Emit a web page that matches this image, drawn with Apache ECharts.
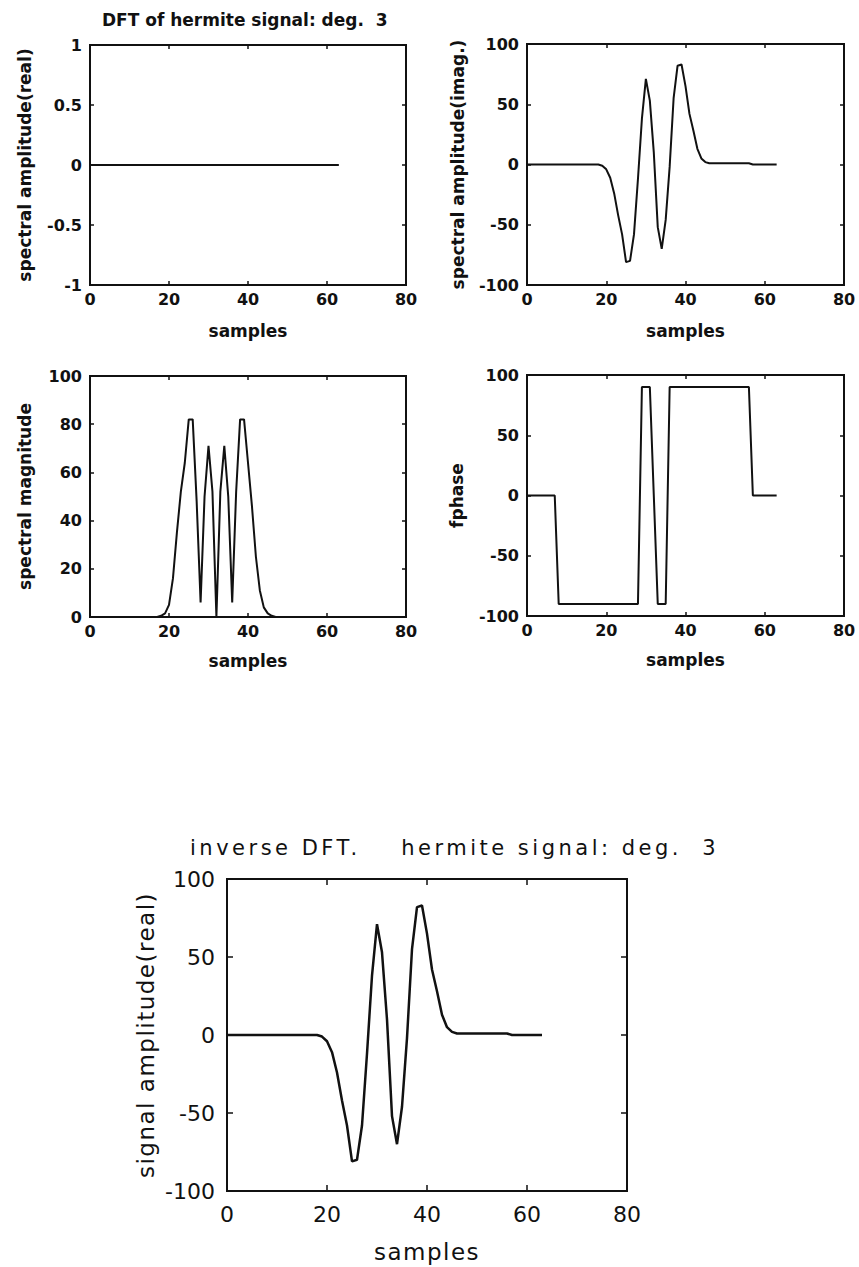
<!DOCTYPE html>
<html>
<head>
<meta charset="utf-8">
<script src="https://cdn.jsdelivr.net/npm/echarts@6/dist/echarts.min.js"></script>
<style>
html, body { margin: 0; padding: 0; background: #fff; }
#chart { width: 859px; height: 1267px; }
/* the scanned bottom panel has wide letter spacing */
#chart text[style*="21px"] { letter-spacing: 3.5px; }
#chart text[style*="23px"] { letter-spacing: 1.5px; }
</style>
</head>
<body>
<div id="chart"></div>
<script>
const samples = [0, 1, 2, 3, 4, 5, 6, 7, 8, 9, 10, 11, 12, 13, 14, 15, 16, 17, 18, 19,
  20, 21, 22, 23, 24, 25, 26, 27, 28, 29, 30, 31, 32, 33, 34, 35, 36, 37, 38, 39,
  40, 41, 42, 43, 44, 45, 46, 47, 48, 49, 50, 51, 52, 53, 54, 55, 56, 57, 58, 59,
  60, 61, 62, 63];

const realPart = [0, 0, 0, 0, 0, 0, 0, 0, 0, 0, 0, 0, 0, 0, 0, 0, 0, 0, 0, 0,
  0, 0, 0, 0, 0, 0, 0, 0, 0, 0, 0, 0, 0, 0, 0, 0, 0, 0, 0, 0,
  0, 0, 0, 0, 0, 0, 0, 0, 0, 0, 0, 0, 0, 0, 0, 0, 0, 0, 0, 0,
  0, 0, 0, 0];

const imagPart = [0, 0, 0, 0, 0, 0, 0, 0, 0, 0, 0, 0, 0, 0, 0, 0, 0, 0, 0, -1,
  -4, -11, -24, -42, -58, -81, -80, -58, -12, 38, 71, 53, 10, -52, -70, -46, -2, 55, 82, 83,
  65, 42, 28, 13, 5, 2, 1, 1, 1, 1, 1, 1, 1, 1, 1, 1, 1, 0, 0, 0,
  0, 0, 0, 0];

const magnitude = [0, 0, 0, 0, 0, 0, 0, 0, 0, 0, 0, 0, 0, 0, 0, 0, 0, 0, 0.5, 1.5,
  5, 16, 35, 52, 64, 82, 82, 48, 6, 50, 71, 52, 0, 52, 71, 50, 6, 52, 82, 82,
  64, 46, 25, 11, 4, 1.5, 0.5, 0, 0, 0, 0, 0, 0, 0, 0, 0, 0, 0, 0, 0,
  0, 0, 0, 0];

const phase = [0, 0, 0, 0, 0, 0, 0, 0, -90, -90, -90, -90, -90, -90, -90, -90, -90, -90, -90, -90,
  -90, -90, -90, -90, -90, -90, -90, -90, -90, 90, 90, 90, 0, -90, -90, -90, 90, 90, 90, 90,
  90, 90, 90, 90, 90, 90, 90, 90, 90, 90, 90, 90, 90, 90, 90, 90, 90, 0, 0, 0,
  0, 0, 0, 0];

const inverseSignal = [0, 0, 0, 0, 0, 0, 0, 0, 0, 0, 0, 0, 0, 0, 0, 0, 0, 0, 0, -1,
  -4, -11, -24, -42, -58, -81, -80, -58, -12, 38, 71, 53, 10, -52, -70, -46, -2, 55, 82, 83,
  65, 42, 28, 13, 5, 2, 1, 1, 1, 1, 1, 1, 1, 1, 1, 1, 1, 0, 0, 0,
  0, 0, 0, 0];

const xTicks = { min: 0, max: 80, interval: 20 };

const ink = '#111';
const font = 'DejaVu Sans';

// one entry per panel
const panels = [
  { grid: { left: 90, top: 45, width: 316, height: 240 }, values: realPart,
    yName: 'spectral amplitude(real)', yMin: -1, yMax: 1, yStep: 0.5, yGap: 57, xGap: 37, big: false },
  { grid: { left: 527, top: 44, width: 317, height: 241 }, values: imagPart,
    yName: 'spectral amplitude(imag.)', yMin: -100, yMax: 100, yStep: 50, yGap: 61, xGap: 37, big: false },
  { grid: { left: 90, top: 376, width: 316, height: 241 }, values: magnitude,
    yName: 'spectral magnitude', yMin: 0, yMax: 100, yStep: 20, yGap: 57, xGap: 35, big: false },
  { grid: { left: 527, top: 375, width: 317, height: 241 }, values: phase,
    yName: 'fphase', yMin: -100, yMax: 100, yStep: 50, yGap: 62, xGap: 35, big: false },
  { grid: { left: 227, top: 879, width: 400, height: 312 }, values: inverseSignal,
    yName: 'signal amplitude(real)', yMin: -100, yMax: 100, yStep: 50, yGap: 70, xGap: 49, big: true }
];

const grids = [], xAxes = [], yAxes = [], series = [];

panels.forEach(function (p, i) {
  const labelFont = p.big
    ? { fontFamily: font, fontSize: 22, fontWeight: 'normal', color: ink }
    : { fontFamily: font, fontSize: 16, fontWeight: 'bold', color: ink };
  const nameFont = p.big
    ? { fontFamily: font, fontSize: 23, fontWeight: 'normal', color: ink }
    : { fontFamily: font, fontSize: 17, fontWeight: 'bold', color: ink };
  const tick = { show: true, inside: true, length: p.big ? 6 : 4, lineStyle: { color: ink, width: 1.5 } };
  const noLine = { show: false, onZero: false };

  grids.push(Object.assign({ show: true, borderColor: ink, borderWidth: 2, backgroundColor: '#fff' }, p.grid));

  xAxes.push({
    type: 'value', gridIndex: i, min: xTicks.min, max: xTicks.max, interval: xTicks.interval,
    axisLine: noLine, axisTick: tick, splitLine: { show: false },
    axisLabel: Object.assign({ margin: p.big ? 12 : 6 }, labelFont),
    name: 'samples', nameLocation: 'middle', nameGap: p.xGap, nameTextStyle: nameFont
  });
  xAxes.push({
    type: 'value', gridIndex: i, position: 'top', min: xTicks.min, max: xTicks.max, interval: xTicks.interval,
    axisLine: noLine, axisTick: tick, splitLine: { show: false }, axisLabel: { show: false }
  });

  yAxes.push({
    type: 'value', gridIndex: i, min: p.yMin, max: p.yMax, interval: p.yStep,
    axisLine: noLine, axisTick: tick, splitLine: { show: false },
    axisLabel: Object.assign({ margin: p.big ? 12 : 8 }, labelFont),
    name: p.yName, nameLocation: 'middle', nameRotate: 90, nameGap: p.yGap, nameTextStyle: nameFont
  });
  yAxes.push({
    type: 'value', gridIndex: i, position: 'right', min: p.yMin, max: p.yMax, interval: p.yStep,
    axisLine: noLine, axisTick: tick, splitLine: { show: false }, axisLabel: { show: false }
  });

  series.push({
    type: 'line', xAxisIndex: 2 * i, yAxisIndex: 2 * i,
    data: samples.map(function (s, k) { return [s, p.values[k]]; }),
    showSymbol: false, silent: true,
    lineStyle: { color: ink, width: p.big ? 2.5 : 2 }
  });
});

const chart = echarts.init(document.getElementById('chart'), null, { renderer: 'svg' });
chart.setOption({
  animation: false,
  backgroundColor: '#fff',
  title: [
    { text: 'DFT of hermite signal: deg.  3', left: 97, top: 6,
      textStyle: { fontFamily: font, fontSize: 17, fontWeight: 'bold', color: ink } },
    { text: 'inverse DFT.    hermite signal: deg.  3', left: 185, top: 832,
      textStyle: { fontFamily: font, fontSize: 21, fontWeight: 'normal', color: ink } }
  ],
  grid: grids,
  xAxis: xAxes,
  yAxis: yAxes,
  series: series
});
</script>
</body>
</html>
